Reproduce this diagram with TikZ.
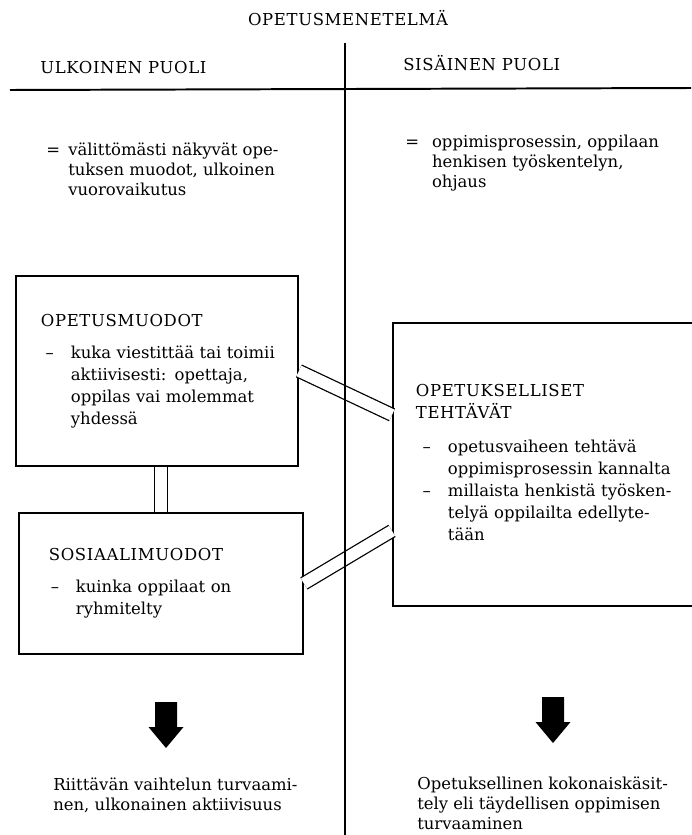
\documentclass[tikz,border=0pt]{standalone}
\usepackage{fontspec}
\setmainfont{DejaVu Serif}
\usepackage{tikz}
\usetikzlibrary{positioning, calc}

\tikzset{
  box/.style={draw, line width=1.3pt, anchor=north west, align=left},
  link/.style={double, line width=0.9pt, double distance=0.29cm},
  teksti/.style={anchor=north west, inner sep=0pt, align=left, font=\fontsize{11.7}{14.2}\selectfont},
  otsake/.style={inner sep=0pt, font=\fontsize{11.7}{14.2}\selectfont\addfontfeature{LetterSpace=4}},
}

\begin{document}
\begin{tikzpicture}[x=0.025cm, y=-0.025cm, font=\fontsize{11.7}{15.65}\selectfont]
        \useasboundingbox (0,0) rectangle (691,835);

        % Headings
        \node[otsake] (otsikko) at (348,18) {OPETUSMENETELMÄ};
        \node[otsake, anchor=west] (ulkoinen) at (40,68) {ULKOINEN PUOLI};
        \node[otsake, anchor=west] (sisainen) at (403,63) {SISÄINEN PUOLI};

        % Definitions under the headings
        \node[teksti] (ulkomaar) at (46,141) {\begin{tabular}{@{}p{0.55cm}@{}l@{}}
            = & välittömästi näkyvät ope-\\
              & tuksen muodot, ulkoinen\\
              & vuorovaikutus
          \end{tabular}};
        \node[teksti] (sismaar) at (405,133) {\begin{tabular}{@{}p{0.67cm}@{}l@{}}
            = & oppimisprosessin, oppilaan\\
              & henkisen työskentelyn,\\
              & ohjaus
          \end{tabular}};

        % Boxes
        \node[box, minimum height=4.75cm, inner xsep=0.625cm, text width=5.8cm] (muodot) at (15,275) {\begin{tabular}{@{}p{0.75cm}@{}l@{}}
            \multicolumn{2}{@{}l@{}}{\addfontfeature{LetterSpace=4}OPETUSMUODOT}\\[0.25cm]
            \hspace{0.12cm}-- & kuka viestittää tai toimii\\
              & aktiivisesti: opettaja,\\
              & oppilas vai molemmat\\
              & yhdessä
          \end{tabular}};
        \node[box, minimum height=3.525cm, inner xsep=0.75cm, text width=5.6cm] (sosiaali) at (18,512) {\begin{tabular}{@{}p{0.675cm}@{}l@{}}
            \multicolumn{2}{@{}l@{}}{\addfontfeature{LetterSpace=4}SOSIAALIMUODOT}\\[0.25cm]
            \hspace{0.05cm}-- & kuinka oppilaat on\\
              & ryhmitelty
          \end{tabular}};
        \node[box, minimum height=7.075cm, inner xsep=0.575cm, text width=6.6cm] (tehtavat) at (392,322) {\begin{tabular}{@{}p{0.8cm}@{}l@{}}
            \multicolumn{2}{@{}l@{}}{\addfontfeature{LetterSpace=4}OPETUKSELLISET}\\
            \multicolumn{2}{@{}l@{}}{\addfontfeature{LetterSpace=4}TEHTÄVÄT}\\[0.3cm]
            \hspace{0.17cm}-- & opetusvaiheen tehtävä\\
              & oppimisprosessin kannalta\\
            \hspace{0.17cm}-- & millaista henkistä työsken-\\
              & telyä oppilailta edellyte-\\
              & tään
          \end{tabular}};

        % Double links between the boxes
        \draw[link] (sosiaali.north |- muodot.south) -- (sosiaali.north);
        \draw[link] (muodot.east) -- ([yshift=1.24cm]tehtavat.west);
        \draw[link] (sosiaali.east) -- ([yshift=-1.66cm]tehtavat.west);

        % Dividing lines
        \draw[line width=1.4pt] (10,90) -- (691,88);
        \draw[line width=1.9pt] (345,43) -- (345,835);

        % Block arrows
        \foreach \ax/\ay in {166/702, 553/697}
            \fill[black] (\ax-11,\ay) -- (\ax+11,\ay) -- (\ax+11,\ay+25) -- (\ax+17.5,\ay+25)
                -- (\ax,\ay+46) -- (\ax-17.5,\ay+25) -- (\ax-11,\ay+25) -- cycle;

        % Results
        \node[teksti] (ulkotulos) at (53,778) {Riittävän vaihtelun turvaami-\\nen, ulkonainen aktiivisuus};
        \node[teksti] (sistulos) at (417,777) {Opetuksellinen kokonaiskäsit-\\tely eli täydellisen oppimisen\\turvaaminen};
    \end{tikzpicture}
\end{document}
